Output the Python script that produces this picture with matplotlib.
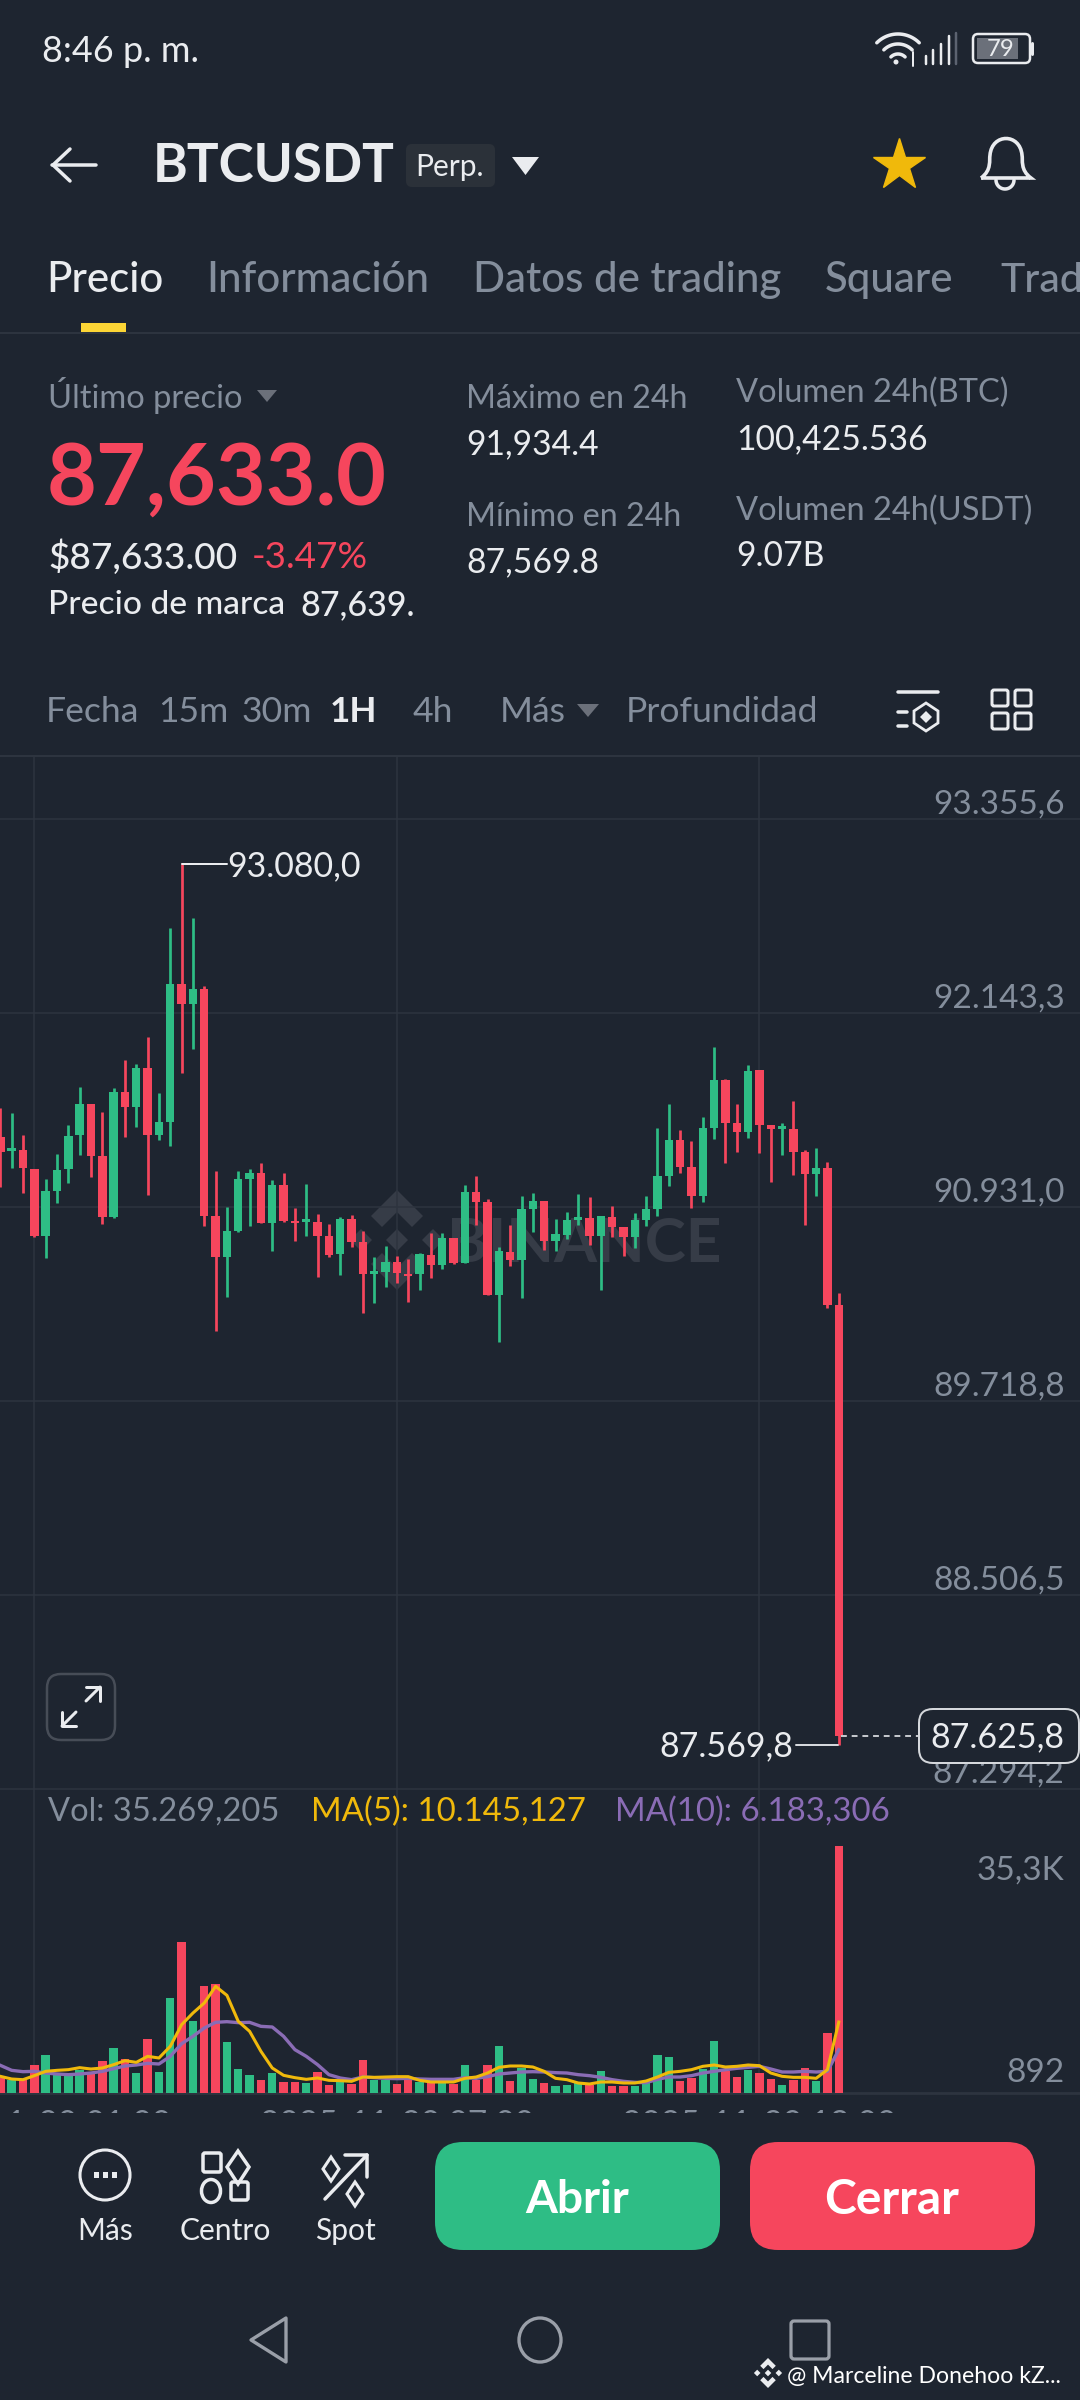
import numpy as np
import matplotlib
matplotlib.use("Agg")
import matplotlib.pyplot as plt
from matplotlib.patches import FancyBboxPatch, Polygon, Circle, Ellipse, Rectangle, PathPatch
from matplotlib.path import Path
from matplotlib.transforms import ScaledTranslation

opens = [91372,91285,91289,91170,90753,91035,91170,91380,91574,91253,
         90868,91649,91560,91799,91383,91466,92326,92201,92297,90876,
         90622,90785,91108,91143,90831,91070,90845,90841,90837,90751,
         90639,90858,90712,90514,90524,90591,90514,90512,90629,90571,
         90738,90581,91029,90963,90381,90650,90602,90921,90971,90717,
         90758,90852,90863,90748,90869,90806,90744,90852,90921,91129,
         91352,91185,90998,91429,91727,91460,91404,91789,91442,91421,
         91421,91273,91140,91179,90321]
closes = [91278,91299,91174,90751,91035,91164,91378,91574,91253,90868,
          91649,91560,91799,91383,91466,92326,92201,92297,90876,90622,
          90785,91105,91143,90831,91070,90847,90831,90856,90751,90633,
          90858,90712,90514,90529,90591,90522,90501,90637,90571,90738,
          90581,91029,90963,90381,90654,90602,90921,90967,90717,90765,
          90852,90869,90748,90873,90806,90744,90852,90921,91129,91352,
          91185,90998,91429,91727,91460,91404,91785,91446,91421,91440,
          91273,91140,91175,90321,87625.8]
highs = [91549,91518,91383,91170,91105,91264,91445,91685,91574,91524,
         91674,91851,91824,91997,91643,92674,93080,92736,92316,91160,
         90931,91160,91170,91205,91101,91143,90924,91074,90887,90824,
         90872,90883,90785,90622,90689,90626,90608,90643,90769,90769,
         90738,91067,91127,90981,90681,90821,91004,91019,90971,90856,
         90904,91013,90994,90877,90936,90806,90894,90998,91425,91577,
         91415,91346,91494,91931,91731,91577,91817,91789,91442,91460,
         91592,91290,91300,91211,90394]
lows = [91060,91174,91022,90747,90612,90956,91085,91258,91118,90824,
        90862,91368,91435,91008,91351,91314,91768,91918,90814,90154,
        90368,90779,90814,90831,90658,90841,90720,90751,90497,90618,
        90508,90685,90268,90331,90431,90456,90337,90414,90488,90544,
        90575,90581,90821,90381,90090,90565,90363,90773,90665,90654,
        90731,90821,90696,90411,90744,90627,90675,90815,90879,91065,
        91144,90925,90961,91356,91206,91279,91363,91269,91086,91258,
        91133,90821,90998,90300,87569.8]
volumes = [2144,1811,1811,4050,5432,2525,2383,3240,2859,4622,
           6433,4860,2859,7719,2954,13628,21538,10340,15343,15582,
           7243,3478,2621,1906,2859,1572,1620,1477,3050,1191,
           1572,1334,4670,1906,1811,1239,1811,1525,1430,1430,
           1287,3955,1906,4050,6766,1763,3574,2049,1382,953,
           1191,1430,1191,3145,1048,953,1048,1430,5480,5146,
           1763,2144,3431,7386,3097,2240,3240,2859,2049,1096,
           1811,3574,1668,8577,35269.205]
ma5 = [2383,2001,1906,2478,3097,3240,3336,3621,3431,3574,
       4050,4622,4384,5242,5003,6671,9768,11436,12866,15248,
       13961,10245,8815,5956,3574,2525,2192,1954,2144,1811,
       1763,1668,2287,2240,2287,2335,2335,1811,1572,1572,
       1572,2097,2287,2859,3669,3860,3860,3717,3097,2097,
       1906,1430,1287,1572,1572,1430,1430,1715,2287,2954,
       3097,3336,3812,4003,3717,3812,4003,3907,2859,2383,
       2240,2240,2097,3336,10145.127]
ma10 = [3955,3240,3050,3097,2859,2716,2621,2716,2859,3097,
        3478,3860,4003,4241,4146,5242,7052,8101,9292,10102,
        10197,10054,10102,9530,9435,8101,6195,5242,4050,2621,
        2144,1906,2287,2192,2097,2049,2097,2001,1954,1954,
        1954,2192,2097,2335,2716,2859,3002,3050,3002,2907,
        2859,2621,2478,2240,1906,1668,1525,1477,1954,2287,
        2287,2478,2859,3097,3336,3526,3669,3812,3431,3002,
        3002,3097,3002,3097,6183.306]

price_ticks = [93355.6, 92143.3, 90931.0, 89718.8, 88506.5, 87294.2]
price_labels = ["93.355,6", "92.143,3", "90.931,0", "89.718,8", "88.506,5", "87.294,2"]
vol_ticks = [35300, 892]
vol_labels = ["35,3K", "892"]
time_ticks = [3, 35, 67]
time_labels = ["2025-11-20 01:00", "2025-11-20 07:00", "2025-11-20 13:00"]
high_label = "93.080,0"
low_label = "87.569,8"
last_label = "87.625,8"

BG = "#1e2530"
GRID = "#2d343f"
GREEN = "#2ebd85"
RED = "#f6465d"
GRAY = "#848e9c"
WHITE = "#eaecef"
YELLOW = "#f0b90b"
PURPLE = "#8a6cb5"
FONT = ["Lato", "DejaVu Sans"]
plt.rcParams["font.family"] = FONT
W, H = 1080, 2400

fig = plt.figure(figsize=(10.8, 24), dpi=100, facecolor=BG)


def overlay(z):
    a = fig.add_axes([0, 0, 1, 1], zorder=z)
    a.set_xlim(0, W)
    a.set_ylim(H, 0)
    a.axis("off")
    a.patch.set_alpha(0)
    return a


back = overlay(0)
ui = overlay(10)

# ---------- chart panels
XLIM = (-0.03, 95.29)
ax = fig.add_axes([0, (H - 1789) / H, 1, (1789 - 757) / H], zorder=2)
ax.patch.set_alpha(0)
ax.set_xlim(*XLIM)
ax.set_ylim(87294.2, 93745)
axv = fig.add_axes([0, (H - 2093) / H, 1, (2093 - 1789) / H], zorder=2)
axv.patch.set_alpha(0)
axv.set_xlim(*XLIM)
axv.set_ylim(0, 43460)
for a in (ax, axv):
    for s in a.spines.values():
        s.set_visible(False)
    a.yaxis.tick_right()
    a.set_xticks(time_ticks)
    a.grid(axis="x", color=GRID, lw=1.1, zorder=0)
ax.set_xticklabels([])
ax.tick_params(axis="x", length=0)
ax.set_yticks(price_ticks)
ax.set_yticklabels(price_labels)
ax.grid(axis="y", color=GRID, lw=1.1, zorder=0)
for gl in ax.get_ygridlines():
    gl.set_clip_on(False)
ax.tick_params(axis="y", length=0, pad=-11, labelsize=24, labelcolor=GRAY)
for lab in ax.get_yticklabels():
    lab.set_ha("right")
    lab.set_va("bottom")

idx = np.arange(len(opens))
colors = [GREEN if c >= o else RED for o, c in zip(opens, closes)]
ax.vlines(idx, lows, highs, colors=colors, lw=1.95, zorder=3)
bt = np.minimum(opens, closes)
ax.bar(idx, np.abs(np.array(closes) - np.array(opens)), bottom=bt, width=0.74, color=colors, zorder=3)
axv.bar(idx, volumes, width=0.74, color=colors, zorder=3)
axv.plot(idx, ma10, color=PURPLE, lw=2.4, zorder=4, solid_joinstyle="round")
axv.plot(idx, ma5, color=YELLOW, lw=2.2, zorder=5, solid_joinstyle="round")
axv.axhline(0, color=GRID, lw=2, clip_on=False, zorder=1)
axv.set_yticks(vol_ticks)
axv.set_yticklabels(vol_labels)
axv.tick_params(axis="y", length=0, pad=-11, labelsize=24, labelcolor=GRAY)
for lab, va, dy in zip(axv.get_yticklabels(), ("top", "bottom"), (-0.09, -0.01)):
    lab.set_ha("right")
    lab.set_va(va)
    lab.set_transform(lab.get_transform() + ScaledTranslation(0, dy, fig.dpi_scale_trans))
axv.set_xticklabels(time_labels)
axv.tick_params(axis="x", length=0, pad=12, labelsize=24, labelcolor=GRAY)


def T(x, y, s, px, color=WHITE, weight="normal", ha="left", a=None, family=None, **kw):
    (a or ui).text(x, y, s, fontsize=px * 0.72, color=color, fontweight=weight,
                   ha=ha, va="center", family=family or FONT, **kw)


def L(xs, ys, color=WHITE, lw=3, a=None, **kw):
    (a or ui).plot(xs, ys, color=color, lw=lw * 0.72, solid_capstyle="round",
                   solid_joinstyle="round", **kw)


def box(x0, y0, x1, y1, r, fc="none", ec="none", lw=0, a=None):
    p = FancyBboxPatch((x0, y0), x1 - x0, y1 - y0, boxstyle=f"round,pad=0,rounding_size={r}",
                       fc=fc, ec=ec, lw=lw * 0.72)
    (a or ui).add_patch(p)


def arc(cx, cy, r, a0, a1, **kw):
    t = np.radians(np.linspace(a0, a1, 30))
    L(cx + r * np.cos(t), cy + r * np.sin(t), **kw)


def logo(cx, cy, s, color, a):
    def pts(p):
        return [(cx + s * u, cy + s * v) for u, v in p]
    for dx, dy in ((0, 0), (-0.72, 0), (0.72, 0)):
        a.add_patch(Polygon(pts([(dx, dy - .22), (dx + .22, dy), (dx, dy + .22), (dx - .22, dy)]), fc=color, ec="none"))
    top = [(0, -1), (.52, -.48), (.3, -.26), (0, -.56), (-.3, -.26), (-.52, -.48)]
    a.add_patch(Polygon(pts(top), fc=color, ec="none"))
    a.add_patch(Polygon(pts([(u, -v) for u, v in top]), fc=color, ec="none"))


# watermark under the candles
logo(397, 1240, 50, "#363c47", back)
T(447, 1244, "BINANCE", 62, color="#363c47", weight="bold", a=back)

# mask: x labels are cut off by the bottom bar
ui.add_patch(Rectangle((0, 2113), W, H - 2113, fc=BG, ec="none"))

# chart annotations
L([182, 227], [864, 864], lw=2)
T(227, 866, high_label, 34)
L([796, 838], [1745, 1745], lw=2, color="#d5d8dc")
T(793, 1746, low_label, 34, ha="right")
ui.plot([841, 918], [1736, 1736], color="#c8cbd0", lw=1.4, ls=(0, (3, 2.5)))
box(919, 1709, 1079, 1763, 14, fc=BG, ec="#d5d8dc", lw=2)
T(1064, 1737, last_label, 34, ha="right")
box(47, 1674, 115, 1740, 14, ec="#474d57", lw=2.5)
L([62, 76], [1726, 1712], lw=3)
L([86, 100], [1701, 1687], lw=3)
L([62, 62, 76], [1712, 1726, 1726], lw=3)
L([86, 100, 100], [1687, 1687, 1701], lw=3)

# volume legend
T(48, 1812, "Vol: 35.269,205", 32.7, color=GRAY)
T(311, 1812, "MA(5): 10.145,127", 33, color=YELLOW)
T(615, 1812, "MA(10): 6.183,306", 33, color=PURPLE)

# ---------- status bar
T(42, 52, "8:46 p. m.", 36)
arc(898, 64, 30, 225, 315, lw=3.5)
arc(898, 64, 20, 225, 315, lw=3.5)
arc(898, 64, 10, 225, 315, lw=3.5)
ui.add_patch(Circle((896, 62), 2.5, fc=WHITE, ec="none"))
L([913, 913], [52, 66], lw=2)
for x, top in zip((926, 933, 941, 949), (56, 50, 44, 36)):
    L([x, x], [64, top], lw=2.5)
L([956, 956], [64, 33], lw=2.5, color="#5c6370")
box(973, 34, 1030, 63, 5, ec=WHITE, lw=2.5)
ui.add_patch(Rectangle((977, 38), 41, 21, fc="#6b707a", ec="none"))
L([1032, 1032], [43, 54], lw=3)
T(1001, 49, "79", 24, ha="center")

# ---------- header
L([52, 96], [165, 165], lw=3.5)
L([70, 53, 70], [149, 165, 181], lw=3.5)
T(153, 167, "BTCUSDT", 53, weight="bold")
box(406, 144, 495, 187, 6, fc="#2b3139")
T(450, 167, "Perp.", 30, ha="center")
ui.add_patch(Polygon([(512, 157), (539, 157), (525.5, 175)], fc=WHITE, ec="none"))
ui.plot([899], [165], marker="*", ms=39, color=YELLOW, mec=YELLOW)
bell = Path([(981, 178), (992, 170), (989, 160), (990, 155), (992, 133), (1020, 133), (1022, 155),
             (1023, 160), (1020, 170), (1031, 178), (981, 178)],
            [Path.MOVETO, Path.CURVE4, Path.CURVE4, Path.CURVE4, Path.CURVE4, Path.CURVE4, Path.CURVE4,
             Path.CURVE4, Path.CURVE4, Path.CURVE4, Path.LINETO])
ui.add_patch(PathPatch(bell, fc="none", ec=WHITE, lw=2.6))
arc(1005, 180, 9, 0, 180, lw=3.5)

# ---------- tabs
T(46, 280, "Precio", 42, weight="medium")
for x, s, px in ((206, "Información", 42), (473, "Datos de trading", 42), (825, "Square", 42), (1000, "Trad", 41)):
    T(x, 280, s, px, color=GRAY, weight="medium")
ui.add_patch(Rectangle((81, 323), 45, 10, fc="#fcd535", ec="none"))
L([0, W], [333, 333], color=GRID, lw=2)

# ---------- stats
T(48, 396, "Último precio", 32.7, color=GRAY)
ui.add_patch(Polygon([(257, 390), (277, 390), (267, 402)], fc="#6b707a", ec="none"))
T(47, 480, "87,633.0", 86, color=RED, weight="bold")
T(48, 557, "$87,633.00", 37, weight="medium")
T(252, 557, "-3.47%", 37, color=RED)
T(48, 605, "Precio de marca", 33.5, weight="medium")
T(300, 605, "87,639.", 34, weight="medium")
T(466, 399, "Máximo en 24h", 32.3, color=GRAY)
T(466, 444, "91,934.4", 33.7)
T(466, 517, "Mínimo en 24h", 32.3, color=GRAY)
T(466, 562, "87,569.8", 33.7)
T(736, 393, "Volumen 24h(BTC)", 32.6, color=GRAY)
T(736, 439, "100,425.536", 33.7)
T(736, 511, "Volumen 24h(USDT)", 32.6, color=GRAY)
T(736, 556, "9.07B", 33.7)

# ---------- interval row
for x, s in ((46, "Fecha"), (158, "15m"), (242, "30m"), (413, "4h"), (500, "Más"), (626, "Profundidad")):
    T(x, 712, s, 35.5, color=GRAY)
T(330, 712, "1H", 35, weight="bold")
ui.add_patch(Polygon([(577, 704), (599, 704), (588, 717)], fc="#6b707a", ec="none"))
L([898, 938], [692, 692], lw=3.5)
L([898, 907], [712, 712], lw=3.5)
L([898, 907], [726, 726], lw=3.5)
ui.add_patch(Polygon([(926, 703), (938, 711), (938, 723), (926, 731), (914, 723), (914, 711)], fc="none", ec=WHITE, lw=2))
ui.add_patch(Polygon([(926, 711), (932, 717), (926, 723), (920, 717)], fc=WHITE, ec="none"))
for x in (992, 1015):
    for y in (690, 713):
        box(x, y, x + 16, y + 16, 2, ec=WHITE, lw=3)
L([0, W], [756, 756], color=GRID, lw=2)

# ---------- bottom bar
ui.add_patch(Circle((105, 2175), 25, fc="none", ec=WHITE, lw=2.2))
for x in (96, 105, 114):
    ui.add_patch(Rectangle((x - 2.5, 2172), 5, 6, fc=WHITE, ec="none"))
T(105, 2231, "Más", 30, ha="center")
box(203, 2153, 221, 2172, 2, ec=WHITE, lw=3.5)
ui.add_patch(Polygon([(238, 2151), (249, 2167), (238, 2184), (227, 2167)], fc="none", ec=WHITE, lw=2.5))
ui.add_patch(Ellipse((211, 2191), 19, 23, fc="none", ec=WHITE, lw=2.5))
box(231, 2182, 248, 2200, 2, ec=WHITE, lw=3.5)
T(225, 2231, "Centro", 30, ha="center")
L([325, 367], [2199, 2155], lw=3.5)
L([345, 367, 367], [2155, 2155, 2177], lw=3.5)
ui.add_patch(Polygon([(331, 2157), (339, 2169), (331, 2181), (323, 2169)], fc="none", ec=WHITE, lw=2.2))
ui.add_patch(Polygon([(355, 2182), (363, 2194), (355, 2206), (347, 2194)], fc="none", ec=WHITE, lw=2.2))
T(345, 2231, "Spot", 30, ha="center")
box(435, 2142, 720, 2250, 28, fc=GREEN)
T(577, 2200, "Abrir", 46, ha="center", weight="bold", color="white")
box(750, 2142, 1035, 2250, 28, fc=RED)
T(892, 2200, "Cerrar", 48, ha="center", weight="bold", color="white")

NAV = "#9a9fa8"
ui.add_patch(Polygon([(286, 2318), (286, 2362), (251, 2340)], fc="none", ec=NAV, lw=2.4, joinstyle="round"))
ui.add_patch(Ellipse((540, 2340), 42, 44, fc="none", ec=NAV, lw=2.4))
box(791, 2321, 829, 2359, 3, ec=NAV, lw=3.2)
logo(768, 2373, 15, WHITE, ui)
T(787, 2376, "@ Marceline Donehoo kZ...", 23, color="white")

fig.savefig("out.png", dpi=100, facecolor=BG)
